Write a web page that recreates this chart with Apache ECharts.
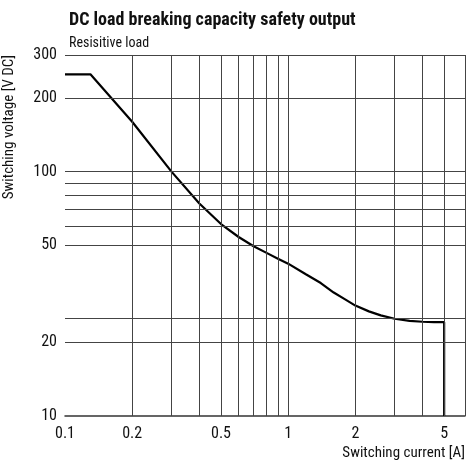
<!DOCTYPE html><html><head><meta charset="utf-8"><script src="https://cdn.jsdelivr.net/npm/echarts@6/dist/echarts.min.js"></script>
<style>html,body{margin:0;background:#fff}#c{width:474px;height:474px}</style></head><body><div id="c"></div><script>
const xTickLabels=[0.1,0.2,0.5,1,2,5];
const yTickLabels=[10,20,50,100,200,300];
const xGrid=[0.2,0.3,0.4,0.5,0.6,0.7,0.8,0.9,1,2,3,4,5];
const yGrid=[20,25,50,60,70,80,90,100,200];
const current=[0.1,0.13,0.2,0.3,0.4,0.5,0.6,0.7,0.8,0.9,1,1.2,1.4,1.6,1.8,2,2.3,2.6,3,3.5,4,4.5,5,5];
const voltage=[250,250,160,100,74,61,54,49.5,46.5,44,42,38,35,32,30,28.3,26.8,25.8,25,24.5,24.3,24.2,24.2,10];
const F='"Liberation Sans Narrow","Roboto Condensed",sans-serif';
const c=echarts.init(document.getElementById('c'));
c.setOption({animation:false,
title:[{text:'DC load breaking capacity safety output',left:64,top:6,textStyle:{fontFamily:F,fontSize:18,fontWeight:'bold',color:'#111'}},
{text:'Resisitive load',left:64,top:31,textStyle:{fontFamily:F,fontSize:14,fontWeight:'normal',color:'#111'}}],
grid:{left:65,right:9,top:55,bottom:58,outerBoundsMode:'none',containLabel:false},
xAxis:{type:'log',min:0.1,max:6.2,logBase:10,name:'Switching current [A]',nameLocation:'end',nameGap:0,
nameTextStyle:{fontFamily:F,fontSize:15,color:'#111',align:'right',verticalAlign:'top',padding:[30,0,0,0]},
axisLine:{lineStyle:{color:'#333',width:1.5}},axisTick:{show:false},splitLine:{show:false},
axisLabel:{customValues:xTickLabels,fontFamily:F,fontSize:16,color:'#111',margin:10,formatter:v=>String(+v.toPrecision(3))}},
yAxis:{type:'log',min:10,max:300,logBase:10,name:'Switching voltage [V DC]',nameLocation:'end',nameRotate:90,nameGap:0,
nameTextStyle:{fontFamily:F,fontSize:15,color:'#111',align:'right',verticalAlign:'bottom',padding:[0,0,48,0]},
axisLine:{show:false},axisTick:{show:false},splitLine:{show:false},
axisLabel:{customValues:yTickLabels,fontFamily:F,fontSize:16,color:'#111',margin:8,formatter:v=>String(Math.round(v))}},
series:[{type:'line',data:current.map((x,i)=>[x,voltage[i]]),symbol:'none',lineStyle:{color:'#000',width:2.2},smooth:false,
markLine:{silent:true,symbol:'none',label:{show:false},lineStyle:{color:'#444',width:1,type:'solid'},
data:[...xGrid.map(v=>({xAxis:v})),...yGrid.map(v=>({yAxis:v})),{xAxis:6.2},{yAxis:300}]},z:3}]});
</script></body></html>
